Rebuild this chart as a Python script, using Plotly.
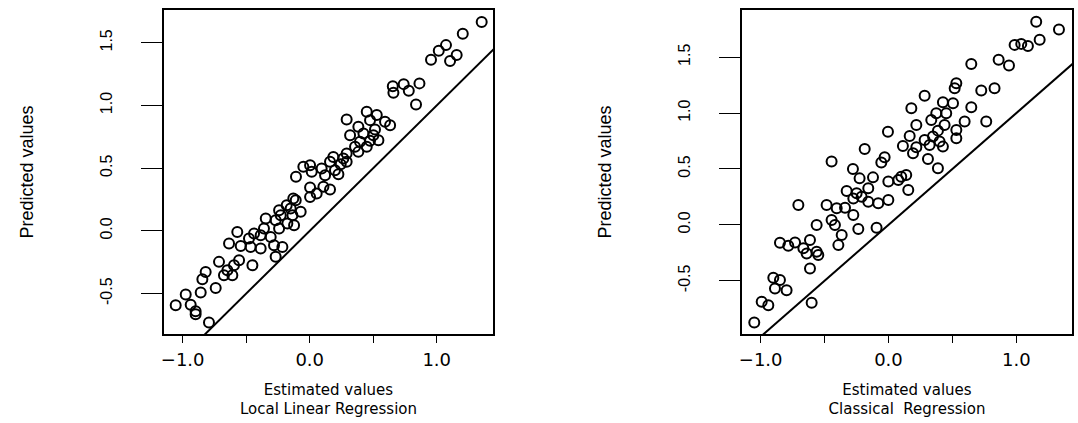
import plotly.graph_objects as go

# ---- data: Local Linear Regression panel ----
llr_est = [1.354, 1.205, 1.073, 1.016, 1.157, 1.105, 0.955, 0.864, 0.740, 0.654,
           0.780, 0.659, 0.837, 0.449, 0.291, 0.528, 0.475, 0.593, 0.633, 0.383,
           0.318, 0.423, 0.501, 0.541, 0.396, 0.449, 0.383, 0.291, 0.265, 0.186,
           0.160, 0.291, 0.003, -0.050, 0.094, 0.016, 0.199, 0.226, 0.121, -0.108,
           0.108, 0.003, 0.160, 0.055, -0.129, 0.003, -0.110, -0.241, -0.150, -0.071,
           -0.228, -0.136, -0.346, -0.268, -0.176, -0.123, -0.360, -0.241, -0.570, -0.438,
           -0.386, -0.307, -0.478, -0.635, -0.543, -0.465, -0.386, -0.281, -0.215, -0.268,
           -0.714, -0.556, -0.596, -0.451, -0.648, -0.609, -0.675, -0.819, -0.845, -0.740,
           -0.858, -0.976, -1.055, -0.937, -0.898, -0.898, -0.793, 0.357, 0.514, 0.475,
           0.244, -0.181]
llr_pred = [1.665, 1.572, 1.481, 1.436, 1.402, 1.354, 1.364, 1.176, 1.170, 1.154,
            1.117, 1.101, 1.008, 0.949, 0.888, 0.923, 0.883, 0.870, 0.843, 0.830,
            0.763, 0.777, 0.763, 0.723, 0.710, 0.670, 0.630, 0.617, 0.577, 0.590,
            0.551, 0.551, 0.524, 0.511, 0.497, 0.471, 0.484, 0.452, 0.444, 0.431,
            0.351, 0.346, 0.330, 0.298, 0.258, 0.271, 0.245, 0.165, 0.178, 0.152,
            0.125, 0.125, 0.098, 0.085, 0.059, 0.045, 0.019, 0.019, -0.008, -0.021,
            -0.035, -0.048, -0.061, -0.101, -0.120, -0.128, -0.141, -0.114, -0.128, -0.207,
            -0.247, -0.234, -0.274, -0.274, -0.314, -0.354, -0.354, -0.327, -0.386, -0.455,
            -0.492, -0.508, -0.593, -0.588, -0.641, -0.665, -0.731, 0.670, 0.809, 0.718,
            0.532, 0.205]

# ---- data: Classical Regression panel ----
cls_est = [1.156, 1.334, 1.183, 0.987, 1.039, 1.091, 0.862, 0.943, 0.648, 0.531,
           0.518, 0.726, 0.830, 0.283, 0.426, 0.505, 0.648, 0.179, 0.374, 0.452,
           0.335, 0.596, 0.765, 0.218, 0.439, 0.387, 0.531, -0.004, 0.348, 0.166,
           0.283, 0.400, 0.531, 0.113, 0.218, 0.322, 0.426, -0.186, 0.192, 0.309,
           -0.030, -0.056, 0.387, -0.278, 0.139, 0.100, -0.121, -0.226, -0.445, 0.077,
           -0.001, -0.158, -0.327, -0.249, -0.210, -0.158, -0.080, -0.001, -0.275, 0.155,
           -0.705, -0.484, -0.405, -0.340, -0.275, -0.562, -0.445, -0.419, -0.366, -0.392,
           -0.236, -0.093, -0.849, -0.731, -0.784, -0.614, -0.666, -0.562, -0.640, -0.549,
           -0.614, -0.901, -0.849, -0.888, -0.797, -0.992, -0.940, -0.601, -1.050]
cls_pred = [1.816, 1.748, 1.655, 1.610, 1.619, 1.601, 1.476, 1.425, 1.440, 1.267,
            1.222, 1.201, 1.222, 1.154, 1.097, 1.088, 1.052, 1.043, 0.999, 0.999,
            0.939, 0.924, 0.924, 0.894, 0.894, 0.843, 0.849, 0.834, 0.790, 0.796,
            0.760, 0.745, 0.775, 0.706, 0.694, 0.715, 0.700, 0.679, 0.640, 0.590,
            0.604, 0.557, 0.506, 0.500, 0.446, 0.431, 0.425, 0.416, 0.566, 0.401,
            0.387, 0.327, 0.303, 0.282, 0.252, 0.207, 0.193, 0.222, 0.237, 0.312,
            0.178, 0.178, 0.148, 0.154, 0.088, -0.001, 0.043, -0.001, -0.091, -0.181,
            -0.037, -0.025, -0.160, -0.157, -0.187, -0.136, -0.210, -0.240, -0.255, -0.270,
            -0.390, -0.473, -0.494, -0.569, -0.584, -0.688, -0.718, -0.697, -0.873]

# identity reference line (y = x)
diag = [-1.3, 1.6]

# axis ticks
x_tickvals = [-1.0, -0.5, 0.0, 0.5, 1.0]
x_ticktext = ["\u22121.0", "", "0.0", "", "1.0"]
y_tickvals = [-0.5, 0.0, 0.5, 1.0, 1.5]
y_ticktext = ["-0.5", "0.0", "0.5", "1.0", "1.5"]

x_title = "Estimated values"
y_title = "Predicted values"
panel_names = ["Local Linear Regression", "Classical  Regression"]

fig = go.Figure()

marker = dict(symbol="circle-open", size=10, color="black", line=dict(width=2, color="black"))
fig.add_trace(go.Scatter(x=llr_est, y=llr_pred, mode="markers", marker=marker,
                         xaxis="x", yaxis="y", showlegend=False))
fig.add_trace(go.Scatter(x=diag, y=diag, mode="lines", line=dict(color="black", width=2),
                         xaxis="x", yaxis="y", showlegend=False))
fig.add_trace(go.Scatter(x=cls_est, y=cls_pred, mode="markers", marker=marker,
                         xaxis="x2", yaxis="y2", showlegend=False))
fig.add_trace(go.Scatter(x=diag, y=diag, mode="lines", line=dict(color="black", width=2),
                         xaxis="x2", yaxis="y2", showlegend=False))

W, H = 1078, 423
ydom = [89 / H, 413 / H]

common_x = dict(showgrid=False, zeroline=False, showline=True, mirror=True,
                linecolor="black", linewidth=1.5, ticks="outside", ticklen=7,
                tickwidth=1.2, tickcolor="black", tickvals=x_tickvals, ticktext=x_ticktext,
                tickfont=dict(family="DejaVu Sans", size=18, color="black"),
                ticklabelstandoff=2, automargin=False,
                title=dict(font=dict(family="DejaVu Sans", size=15, color="black"), standoff=15))
common_y = dict(showgrid=False, zeroline=False, showline=True, mirror=True,
                linecolor="black", linewidth=1.5, ticks="outside", ticklen=21,
                tickwidth=1.2, tickcolor="black", tickvals=y_tickvals, ticktext=y_ticktext,
                tickangle=-90,
                tickfont=dict(family="Liberation Sans", size=16, color="black"),
                ticklabelstandoff=23, automargin=False,
                title=dict(text=y_title, font=dict(family="Liberation Sans", size=18, color="black"),
                           standoff=60))

fig.update_layout(
    width=W, height=H, autosize=False,
    margin=dict(l=0, r=0, t=0, b=0),
    paper_bgcolor="white", plot_bgcolor="white",
    xaxis=dict(common_x, domain=[164 / W, 493 / W], range=[-1.147, 1.443],
               title=dict(common_x["title"], text=x_title + "<br>" + panel_names[0])),
    yaxis=dict(common_y, domain=ydom, range=[-0.822, 1.761]),
    xaxis2=dict(common_x, domain=[742 / W, 1072 / W], range=[-1.146, 1.436], anchor="y2",
                title=dict(common_x["title"], text=x_title + "<br>" + panel_names[1])),
    yaxis2=dict(common_y, domain=ydom, range=[-0.976, 1.922], anchor="x2"),
)

fig.write_html("out.html", config={"displayModeBar": False},
               post_script="document.body.style.margin='0px';")
